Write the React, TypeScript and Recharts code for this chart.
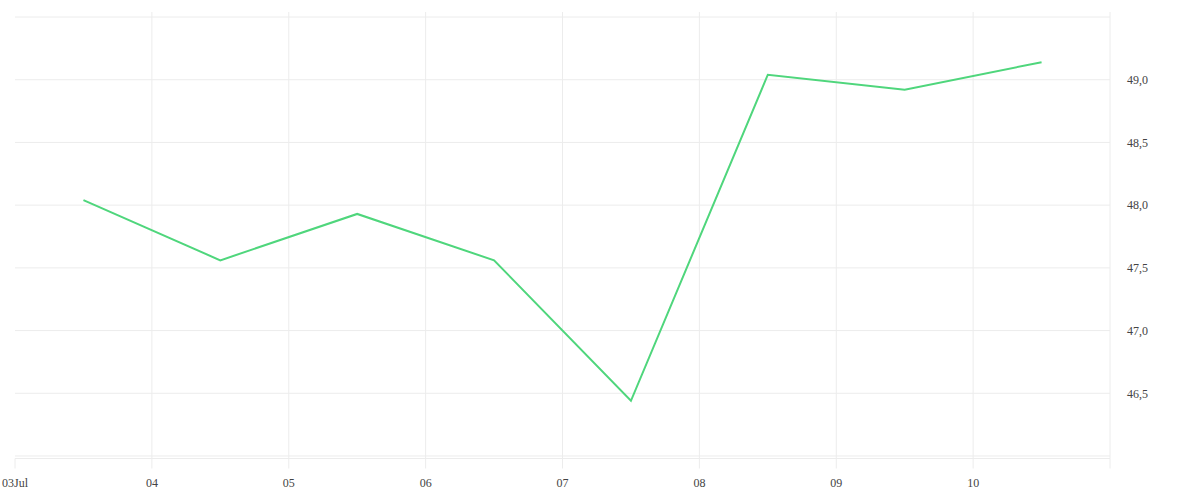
import React from 'react';
import { LineChart, Line, XAxis, YAxis, CartesianGrid } from 'recharts';

// daily readings, taken at noon (July 2024)
const DAYS = [3, 4, 5, 6, 7, 8, 9, 10];
const VALUES = [48.04, 47.56, 47.93, 47.56, 46.44, 49.04, 48.92, 49.14];
const TICK_DAYS = [3, 4, 5, 6, 7, 8, 9, 10, 11];
const Y_TICKS = [46, 46.5, 47, 47.5, 48, 48.5, 49, 49.5];
const Y_LABELED = [46.5, 47, 47.5, 48, 48.5, 49];

const dayTs = (d: number, h = 0) => Date.UTC(2024, 6, d, h);

const data = DAYS.map((d, i) => ({ t: dayTs(d, 12), value: VALUES[i] }));

const formatDay = (ts: number) => {
    const d = new Date(ts).getUTCDate();
    if (d === 11) return '';
    const s = String(d).padStart(2, '0');
    return d === 3 ? `${s}Jul` : s;
};

const formatValue = (v: number) =>
    Y_LABELED.includes(v) ? v.toFixed(1).replace('.', ',') : '';

const GRID = '#ececec';
const TEXT = { fill: '#444', fontSize: 12 };

export default function App() {
    return (
        <div style={{ position: 'absolute', left: 0, top: 0, width: 1200, height: 500 }}>
            <LineChart
                width={1200}
                height={500}
                data={data}
                margin={{ top: 12, right: 30, left: 15, bottom: 11.5 }}
            >
                <CartesianGrid stroke={GRID} horizontalValues={Y_TICKS} verticalValues={TICK_DAYS.map(d => dayTs(d))} />
                <XAxis
                    dataKey="t"
                    type="number"
                    scale="time"
                    domain={[dayTs(3), dayTs(11)]}
                    ticks={TICK_DAYS.map(d => dayTs(d))}
                    tickFormatter={formatDay}
                    height={30}
                    tickSize={10}
                    tickMargin={10}
                    tick={TEXT}
                    stroke={GRID}
                    axisLine={{ stroke: GRID }}
                    tickLine={{ stroke: GRID }}
                />
                <YAxis
                    orientation="right"
                    type="number"
                    domain={[45.98, 49.54]}
                    ticks={Y_TICKS}
                    tickFormatter={formatValue}
                    width={60}
                    axisLine={false}
                    tickLine={false}
                    tickSize={6}
                    tickMargin={11}
                    tick={{ ...TEXT, textAnchor: 'start' }}
                    allowDataOverflow
                />
                <Line
                    type="linear"
                    dataKey="value"
                    stroke="#4fd67c"
                    strokeWidth={2}
                    dot={false}
                    activeDot={false}
                    isAnimationActive={false}
                />
            </LineChart>
        </div>
    );
}
